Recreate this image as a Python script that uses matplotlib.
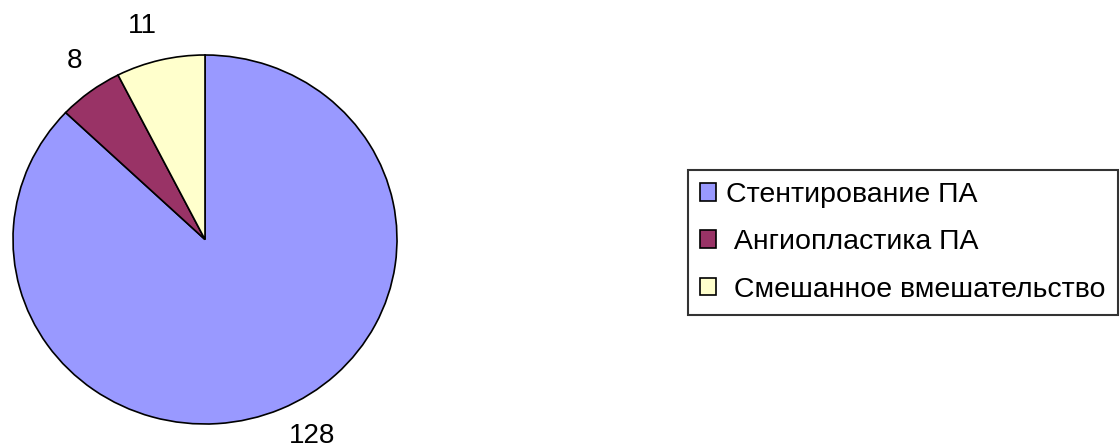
import matplotlib
matplotlib.use("Agg")
import matplotlib.pyplot as plt

plt.rcParams['font.family'] = ['Liberation Sans', 'DejaVu Sans']

# chart data
categories = ["Стентирование ПА", " Ангиопластика ПА", " Смешанное вмешательство"]
values = [128, 8, 11]
colors = ["#9999FF", "#993366", "#FFFFCC"]

# small nudges of the value labels (data units), like the original layout
label_nudge = [(0.09, 0.03), (0.03, 0.015), (-0.05, 0.0)]

fig = plt.figure(figsize=(11.2, 4.48), dpi=100)
fig.patch.set_facecolor("white")

# pie area (slightly squashed ellipse like the original)
ax = fig.add_axes([13 / 1120, 24 / 448, 384 / 1120, 369 / 448])
wedges, texts = ax.pie(values, labels=[str(v) for v in values], colors=colors,
                       startangle=90, counterclock=False, labeldistance=1.19,
                       wedgeprops=dict(edgecolor="black", linewidth=1.2),
                       textprops=dict(fontsize=20, color="black"))
for t, (dx, dy) in zip(texts, label_nudge):
    x, y = t.get_position()
    t.set_position((x + dx, y + dy))
    t.set_horizontalalignment("center")
    t.set_verticalalignment("center")
ax.set_aspect("auto")
ax.set_xlim(-1, 1)
ax.set_ylim(-1, 1)
ax.axis("off")

leg = fig.legend(wedges, categories, loc="upper left",
                 bbox_to_anchor=(688 / 1120, 1 - 170 / 448),
                 fontsize=20.5, frameon=True, fancybox=False,
                 handlelength=0.58, handleheight=0.58, handletextpad=0.35,
                 labelspacing=0.75, borderpad=0.42, borderaxespad=0)
leg.get_frame().set_edgecolor("black")
leg.get_frame().set_linewidth(1.5)

fig.savefig("out.png", dpi=100)
